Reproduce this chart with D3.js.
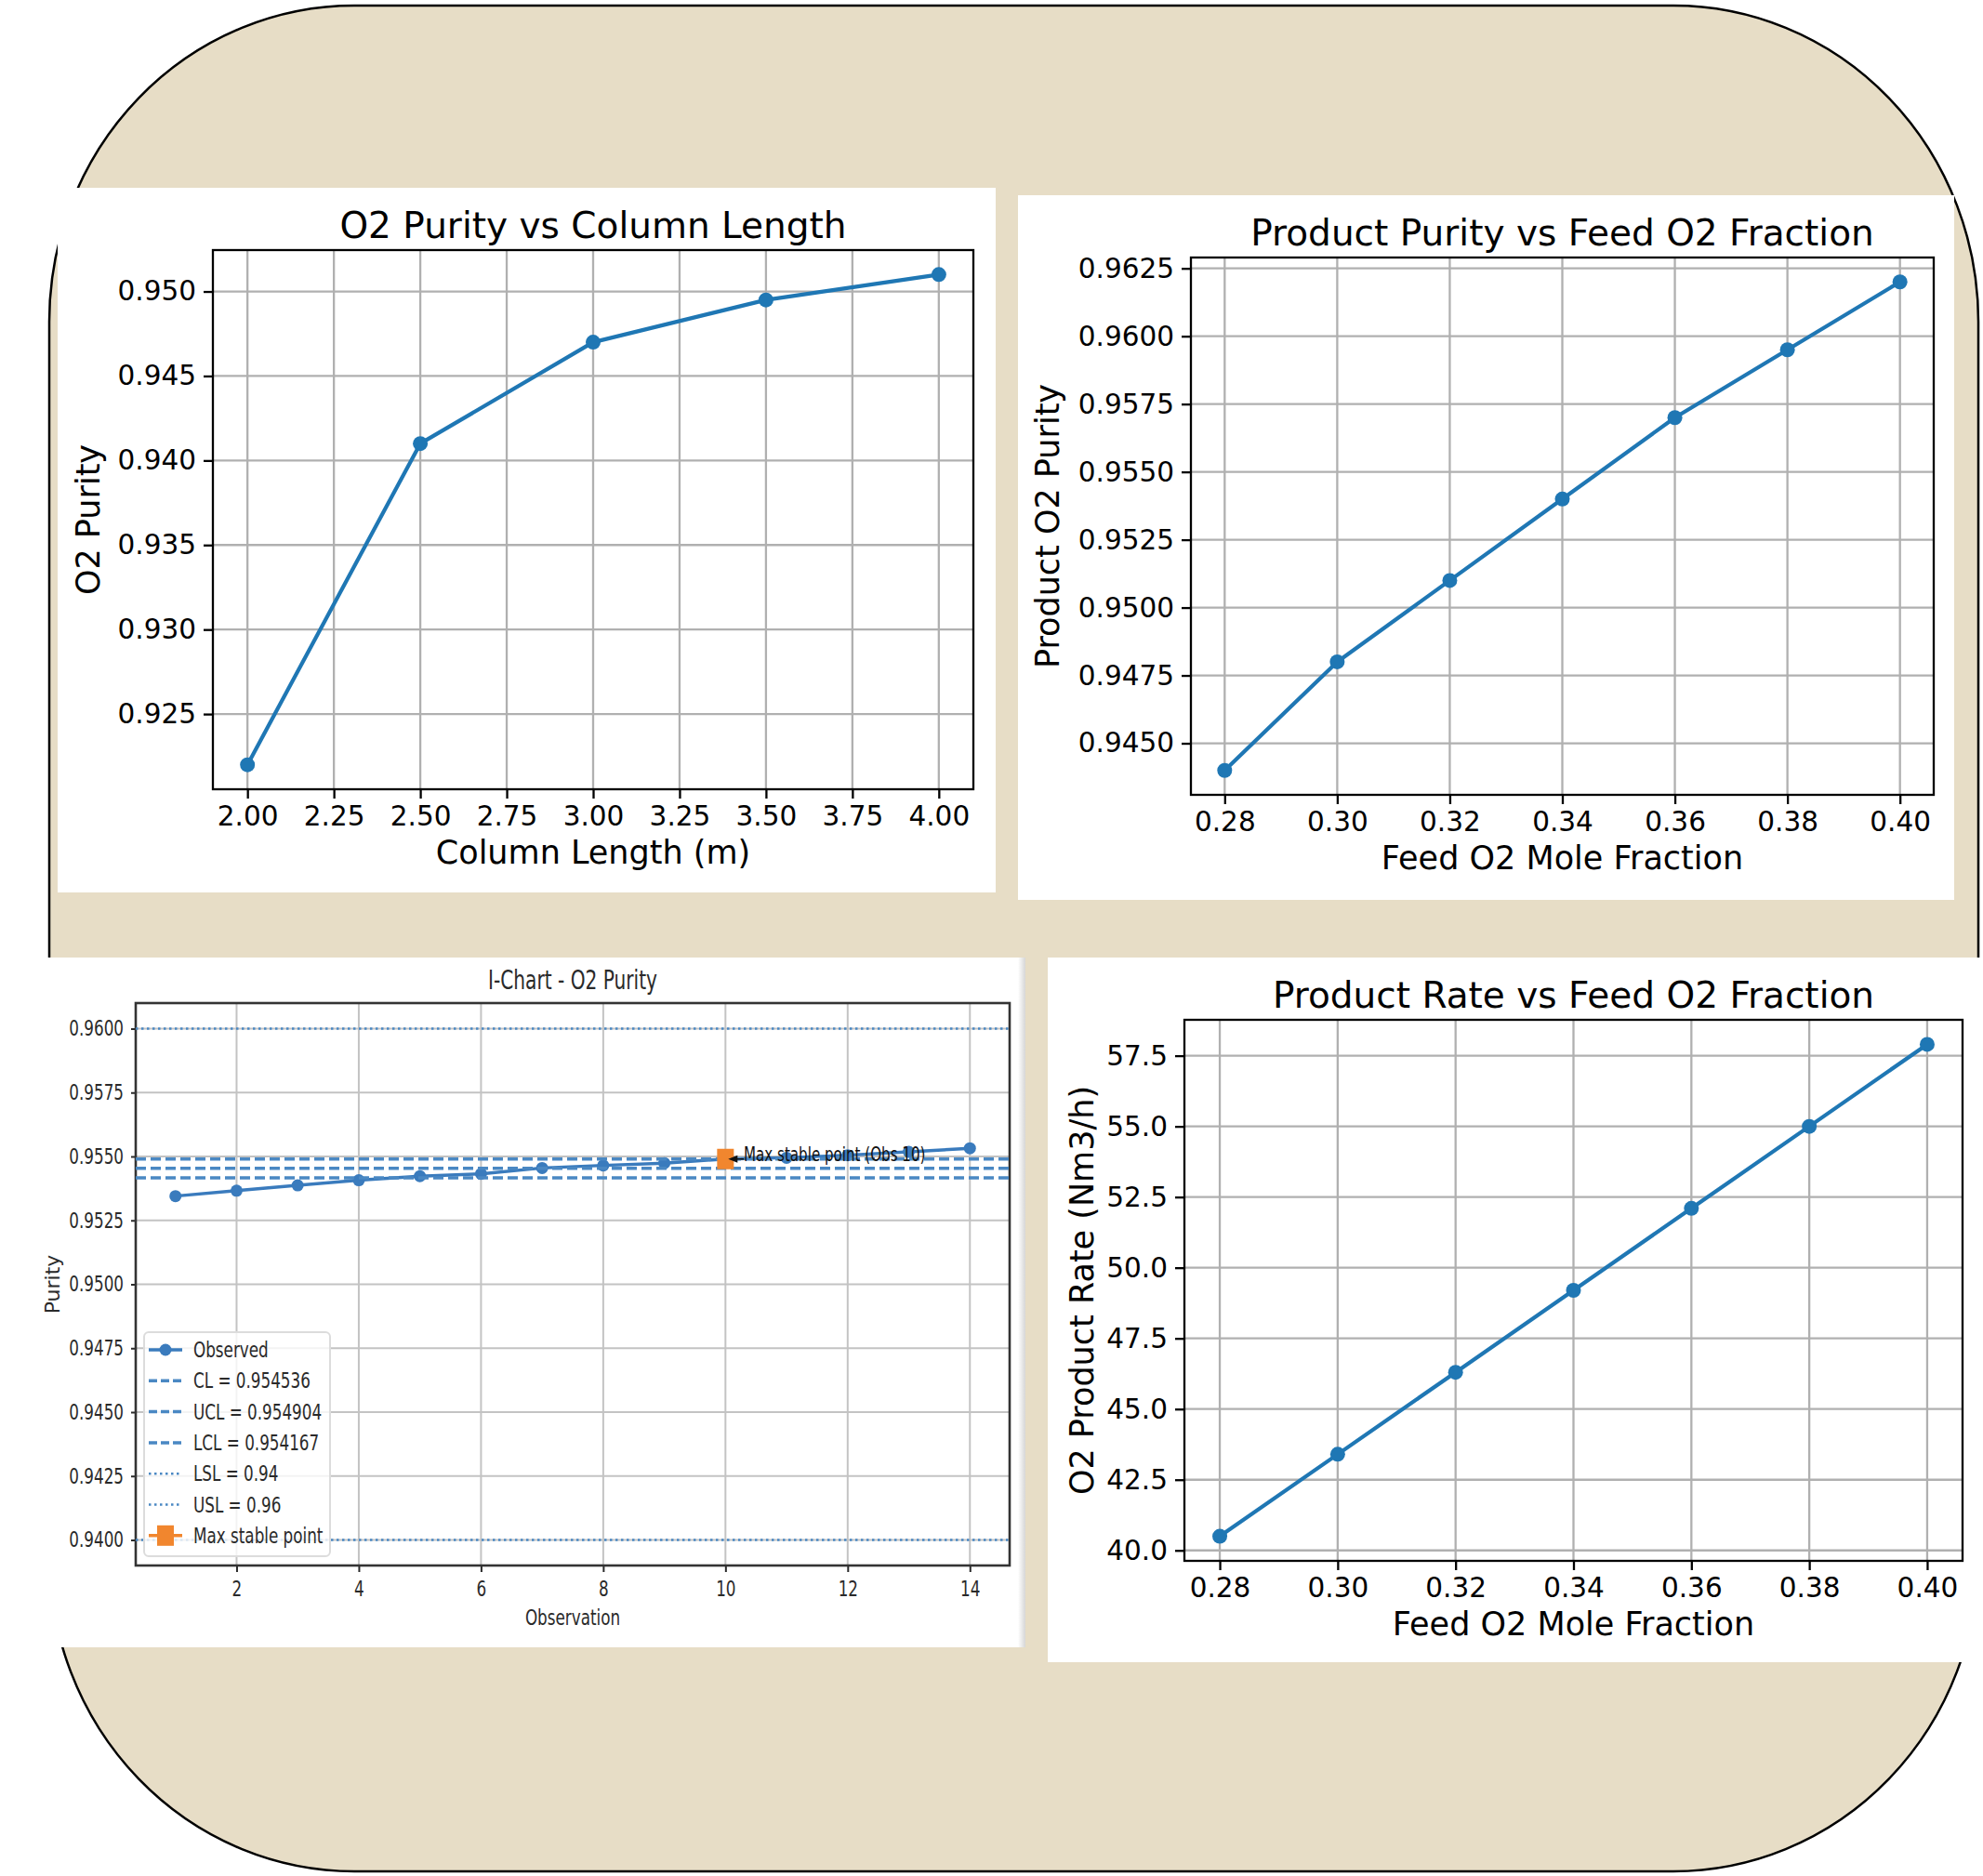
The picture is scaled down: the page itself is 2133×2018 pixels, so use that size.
<!DOCTYPE html>
<html>
<head>
<meta charset="utf-8">
<script src="https://cdn.jsdelivr.net/npm/d3@7"></script>
<style>
  body { margin: 0; background: #fff; }
  svg { display: block; }
</style>
</head>
<body>
<svg id="board" width="2133" height="2018"></svg>
<script>
// values
const columnLength = [2.0, 2.5, 3.0, 3.5, 4.0];
const purityByLength = [0.922, 0.941, 0.947, 0.9495, 0.951];
const lengthTicks = [2.0, 2.25, 2.5, 2.75, 3.0, 3.25, 3.5, 3.75, 4.0];
const lengthPurityTicks = [0.925, 0.930, 0.935, 0.940, 0.945, 0.950];

const feedFraction = [0.28, 0.30, 0.32, 0.34, 0.36, 0.38, 0.40];
const productPurity = [0.944, 0.948, 0.951, 0.954, 0.957, 0.9595, 0.962];
const productRate = [40.5, 43.4, 46.3, 49.2, 52.1, 55.0, 57.9];
const feedTicks = [0.28, 0.30, 0.32, 0.34, 0.36, 0.38, 0.40];
const productPurityTicks = [0.9450, 0.9475, 0.9500, 0.9525, 0.9550, 0.9575, 0.9600, 0.9625];
const productRateTicks = [40.0, 42.5, 45.0, 47.5, 50.0, 52.5, 55.0, 57.5];

const observation = [1, 2, 3, 4, 5, 6, 7, 8, 9, 10, 11, 12, 13, 14];
const observedPurity = [0.95345, 0.95366, 0.95387, 0.95407, 0.95423, 0.95432, 0.95455,
                        0.95465, 0.95474, 0.9549, 0.95495, 0.95505, 0.95518, 0.95532];
const observationTicks = [2, 4, 6, 8, 10, 12, 14];
const iChartTicks = [0.9400, 0.9425, 0.9450, 0.9475, 0.9500, 0.9525, 0.9550, 0.9575, 0.9600];
const controlLimits = [
    {name: "CL", value: 0.954536},
    {name: "UCL", value: 0.954904},
    {name: "LCL", value: 0.954167}
];
const specLimits = [
    {name: "LSL", value: 0.94},
    {name: "USL", value: 0.96}
];
const maxStableObs = 10;

const FONT = "DejaVu Sans, sans-serif";
const BLUE = "#1f77b4";
const svg = d3.select("#board");

// beige board behind the cards
svg.append("rect")
    .attr("x", 53).attr("y", 6)
    .attr("width", 2075).attr("height", 2007)
    .attr("rx", 328).attr("ry", 340)
    .attr("fill", "#e7ddc6")
    .attr("stroke", "#000")
    .attr("stroke-width", 2.5);

// matplotlib style 5% margins
const padded = ext => {
    const r = ext[1] - ext[0];
    return [ext[0] - 0.05 * r, ext[1] + 0.05 * r];
};

const styleAxis = (sel, size, colour, width) => {
    sel.attr("font-family", FONT).attr("font-size", size);
    sel.select(".domain").remove();
    sel.selectAll(".tick line").attr("stroke", colour).attr("stroke-width", width);
    sel.selectAll(".tick text").attr("fill", colour);
};

const linePanel = (cfg) => {
    const {card, plot} = cfg;
    const g = svg.append("g");

    g.append("rect")
        .attr("x", card.x).attr("y", card.y)
        .attr("width", card.w).attr("height", card.h)
        .attr("fill", "#fff");

    const xScale = d3.scaleLinear().domain(padded(d3.extent(cfg.xs))).range([plot.l, plot.r]);
    const yScale = d3.scaleLinear().domain(padded(d3.extent(cfg.ys))).range([plot.b, plot.t]);

    // grid
    const grid = g.append("g").attr("stroke", "#b0b0b0").attr("stroke-width", 2.3);
    grid.selectAll(".gx").data(cfg.xTicks).join("line").attr("class", "gx")
        .attr("x1", d => xScale(d)).attr("x2", d => xScale(d))
        .attr("y1", plot.t).attr("y2", plot.b);
    grid.selectAll(".gy").data(cfg.yTicks).join("line").attr("class", "gy")
        .attr("x1", plot.l).attr("x2", plot.r)
        .attr("y1", d => yScale(d)).attr("y2", d => yScale(d));

    const xAxis = g.append("g")
        .attr("transform", `translate(0,${plot.b})`)
        .call(d3.axisBottom(xScale).tickValues(cfg.xTicks)
            .tickFormat(d3.format(cfg.xFmt)).tickSize(10).tickPadding(8));
    styleAxis(xAxis, 29.5, "#000", 2.3);

    const yAxis = g.append("g")
        .attr("transform", `translate(${plot.l},0)`)
        .call(d3.axisLeft(yScale).tickValues(cfg.yTicks)
            .tickFormat(d3.format(cfg.yFmt)).tickSize(10).tickPadding(8));
    styleAxis(yAxis, 29.5, "#000", 2.3);

    g.append("rect")
        .attr("x", plot.l).attr("y", plot.t)
        .attr("width", plot.r - plot.l).attr("height", plot.b - plot.t)
        .attr("fill", "none").attr("stroke", "#000").attr("stroke-width", 2.3);

    const points = cfg.xs.map((v, i) => ({x: v, y: cfg.ys[i]}));
    const line = d3.line().x(d => xScale(d.x)).y(d => yScale(d.y));

    g.append("path")
        .datum(points)
        .attr("fill", "none")
        .attr("stroke", BLUE)
        .attr("stroke-width", 4.2)
        .attr("stroke-linejoin", "round")
        .attr("d", line);

    g.selectAll("circle")
        .data(points)
        .join("circle")
        .attr("cx", d => xScale(d.x))
        .attr("cy", d => yScale(d.y))
        .attr("r", 8)
        .attr("fill", BLUE);

    const midX = (plot.l + plot.r) / 2;
    g.append("text")
        .attr("x", midX).attr("y", plot.t - 13)
        .attr("text-anchor", "middle")
        .attr("font-family", FONT).attr("font-size", 39)
        .text(cfg.title);
    g.append("text")
        .attr("x", midX).attr("y", plot.b + 80)
        .attr("text-anchor", "middle")
        .attr("font-family", FONT).attr("font-size", 35)
        .text(cfg.xLabel);
    g.append("text")
        .attr("transform", `translate(${plot.l - cfg.yLabelOff},${(plot.t + plot.b) / 2}) rotate(-90)`)
        .attr("text-anchor", "middle")
        .attr("font-family", FONT).attr("font-size", 35)
        .text(cfg.yLabel);
};

linePanel({
    card: {x: 62, y: 202, w: 1009, h: 758},
    plot: {l: 229, t: 269, r: 1047, b: 849},
    xs: columnLength, ys: purityByLength,
    xTicks: lengthTicks, yTicks: lengthPurityTicks,
    xFmt: ".2f", yFmt: ".3f",
    title: "O2 Purity vs Column Length",
    xLabel: "Column Length (m)",
    yLabel: "O2 Purity",
    yLabelOff: 122
});

linePanel({
    card: {x: 1095, y: 210, w: 1007, h: 758},
    plot: {l: 1281, t: 277, r: 2080, b: 855},
    xs: feedFraction, ys: productPurity,
    xTicks: feedTicks, yTicks: productPurityTicks,
    xFmt: ".2f", yFmt: ".4f",
    title: "Product Purity vs Feed O2 Fraction",
    xLabel: "Feed O2 Mole Fraction",
    yLabel: "Product O2 Purity",
    yLabelOff: 142
});

linePanel({
    card: {x: 1127, y: 1030, w: 1003, h: 758},
    plot: {l: 1274, t: 1097, r: 2111, b: 1679},
    xs: feedFraction, ys: productRate,
    xTicks: feedTicks, yTicks: productRateTicks,
    xFmt: ".2f", yFmt: ".1f",
    title: "Product Rate vs Feed O2 Fraction",
    xLabel: "Feed O2 Mole Fraction",
    yLabel: "O2 Product Rate (Nm3/h)",
    yLabelOff: 98
});

// I-chart: a squeezed screenshot, so the text is narrowed horizontally
const iChart = () => {
    const card = {x: 44, y: 1030, w: 1059, h: 742};
    const plot = {l: 146, t: 1079, r: 1086, b: 1684};
    const SX = 0.73, F = 23;
    const INK = "#2a2a2a";
    const LINE = "#3a7bbd";
    const LIMIT = "#4a88c3";
    const ORANGE = "#f1862e";

    const g = svg.append("g");
    g.append("rect")
        .attr("x", card.x).attr("y", card.y)
        .attr("width", card.w).attr("height", card.h)
        .attr("fill", "#fff");

    const defs = svg.append("defs");
    const grad = defs.append("linearGradient").attr("id", "edge").attr("x1", 0).attr("x2", 1);
    grad.append("stop").attr("offset", 0).attr("stop-color", "#fff");
    grad.append("stop").attr("offset", 1).attr("stop-color", "#d6d6d6");
    g.append("rect")
        .attr("x", card.x + card.w - 8).attr("y", card.y)
        .attr("width", 8).attr("height", card.h)
        .attr("fill", "url(#edge)");

    const xScale = d3.scaleLinear()
        .domain(padded(d3.extent(observation)))
        .range([plot.l, plot.r]);
    const yScale = d3.scaleLinear()
        .domain(padded(d3.extent([...observedPurity, ...specLimits.map(d => d.value)])))
        .range([plot.b, plot.t]);

    const grid = g.append("g").attr("stroke", "#c3c3c3").attr("stroke-width", 2);
    grid.selectAll(".gx").data(observationTicks).join("line").attr("class", "gx")
        .attr("x1", d => xScale(d)).attr("x2", d => xScale(d))
        .attr("y1", plot.t).attr("y2", plot.b);
    grid.selectAll(".gy").data(iChartTicks).join("line").attr("class", "gy")
        .attr("x1", plot.l).attr("x2", plot.r)
        .attr("y1", d => yScale(d)).attr("y2", d => yScale(d));

    const xAxis = g.append("g")
        .attr("transform", `translate(0,${plot.b})`)
        .call(d3.axisBottom(xScale).tickValues(observationTicks)
            .tickFormat(d3.format("d")).tickSize(7).tickPadding(10));
    styleAxis(xAxis, F, INK, 2);
    xAxis.selectAll(".tick text").attr("transform", `scale(${SX},1)`);

    const yAxis = g.append("g")
        .attr("transform", `translate(${plot.l},0)`)
        .call(d3.axisLeft(yScale).tickValues(iChartTicks)
            .tickFormat(d3.format(".4f")).tickSize(5).tickPadding(8));
    styleAxis(yAxis, F, INK, 2);
    yAxis.selectAll(".tick text")
        .attr("x", -13 / SX)
        .attr("transform", `scale(${SX},1)`);

    g.append("rect")
        .attr("x", plot.l).attr("y", plot.t)
        .attr("width", plot.r - plot.l).attr("height", plot.b - plot.t)
        .attr("fill", "none").attr("stroke", "#333").attr("stroke-width", 2.6);

    const points = observation.map((o, i) => ({x: o, y: observedPurity[i]}));
    g.append("path")
        .datum(points)
        .attr("fill", "none")
        .attr("stroke", LINE)
        .attr("stroke-width", 3.5)
        .attr("d", d3.line().x(d => xScale(d.x)).y(d => yScale(d.y)));
    g.selectAll(".obs")
        .data(points)
        .join("circle")
        .attr("class", "obs")
        .attr("cx", d => xScale(d.x))
        .attr("cy", d => yScale(d.y))
        .attr("r", 6.5)
        .attr("fill", LINE);

    g.selectAll(".ctl")
        .data(controlLimits)
        .join("line")
        .attr("class", "ctl")
        .attr("x1", plot.l).attr("x2", plot.r)
        .attr("y1", d => yScale(d.value)).attr("y2", d => yScale(d.value))
        .attr("stroke", LIMIT).attr("stroke-width", 3.5)
        .attr("stroke-dasharray", "11,5");

    g.selectAll(".spec")
        .data(specLimits)
        .join("line")
        .attr("class", "spec")
        .attr("x1", plot.l).attr("x2", plot.r)
        .attr("y1", d => yScale(d.value)).attr("y2", d => yScale(d.value))
        .attr("stroke", LIMIT).attr("stroke-width", 2.5)
        .attr("stroke-dasharray", "2.5,3.5");

    const maxVal = observedPurity[observation.indexOf(maxStableObs)];
    const mx = xScale(maxStableObs), my = yScale(maxVal);
    g.append("rect")
        .attr("x", mx - 9).attr("y", my - 11)
        .attr("width", 18).attr("height", 22)
        .attr("fill", ORANGE);

    // annotation with a small arrow head pointing back at the square
    g.append("path")
        .attr("d", `M${mx + 3},${my} L${mx + 13},${my - 4} L${mx + 13},${my + 4} Z`)
        .attr("fill", "#111");
    g.append("line")
        .attr("x1", mx + 12).attr("x2", xScale(maxStableObs + 0.3))
        .attr("y1", my).attr("y2", my)
        .attr("stroke", "#111").attr("stroke-width", 1.5);
    g.append("text")
        .attr("transform", `translate(${xScale(maxStableObs + 0.3)},${my + 2}) scale(${SX},1)`)
        .attr("font-family", FONT).attr("font-size", 20.7)
        .attr("fill", "#111")
        .text(`Max stable point (Obs ${maxStableObs})`);

    // title and axis labels
    g.append("text")
        .attr("transform", `translate(${(plot.l + plot.r) / 2},${plot.t - 15}) scale(${SX},1)`)
        .attr("text-anchor", "middle")
        .attr("font-family", FONT).attr("font-size", 27.6)
        .attr("fill", INK)
        .text("I-Chart - O2 Purity");
    g.append("text")
        .attr("transform", `translate(${(plot.l + plot.r) / 2},${plot.b + 64}) scale(${SX},1)`)
        .attr("text-anchor", "middle")
        .attr("font-family", FONT).attr("font-size", F)
        .attr("fill", INK)
        .text("Observation");
    g.append("text")
        .attr("transform", `translate(${plot.l - 82},${(plot.t + plot.b) / 2}) rotate(-90)`)
        .attr("text-anchor", "middle")
        .attr("font-family", FONT).attr("font-size", 22)
        .attr("fill", INK)
        .text("Purity");

    // legend
    const items = [
        {label: "Observed", kind: "obs"},
        ...controlLimits.map(d => ({label: `${d.name} = ${d.value}`, kind: "dash"})),
        ...specLimits.map(d => ({label: `${d.name} = ${d.value}`, kind: "dot"})),
        {label: "Max stable point", kind: "max"}
    ];
    const lg = g.append("g");
    lg.append("rect")
        .attr("x", 155).attr("y", 1433)
        .attr("width", 200).attr("height", 241)
        .attr("rx", 5)
        .attr("fill", "#fff").attr("fill-opacity", 0.8)
        .attr("stroke", "#dcdcdc").attr("stroke-width", 2);

    const rows = lg.selectAll(".row")
        .data(items)
        .join("g")
        .attr("class", "row")
        .attr("transform", (d, i) => `translate(0,${1452 + i * 33.3})`);

    rows.append("line")
        .attr("x1", 160).attr("x2", 196)
        .attr("stroke", d => d.kind === "max" ? ORANGE : (d.kind === "obs" ? LINE : LIMIT))
        .attr("stroke-width", d => d.kind === "dot" ? 2.5 : 3.5)
        .attr("stroke-dasharray", d => d.kind === "dash" ? "9,4" : (d.kind === "dot" ? "2.5,3.5" : null));
    rows.filter(d => d.kind === "obs").append("circle")
        .attr("cx", 178).attr("r", 6.5).attr("fill", LINE);
    rows.filter(d => d.kind === "max").append("rect")
        .attr("x", 169).attr("y", -11).attr("width", 18).attr("height", 22)
        .attr("fill", ORANGE);
    rows.append("text")
        .attr("transform", `translate(208,8) scale(${SX},1)`)
        .attr("font-family", FONT).attr("font-size", F)
        .attr("fill", INK)
        .text(d => d.label);
};

iChart();
</script>
</body>
</html>
